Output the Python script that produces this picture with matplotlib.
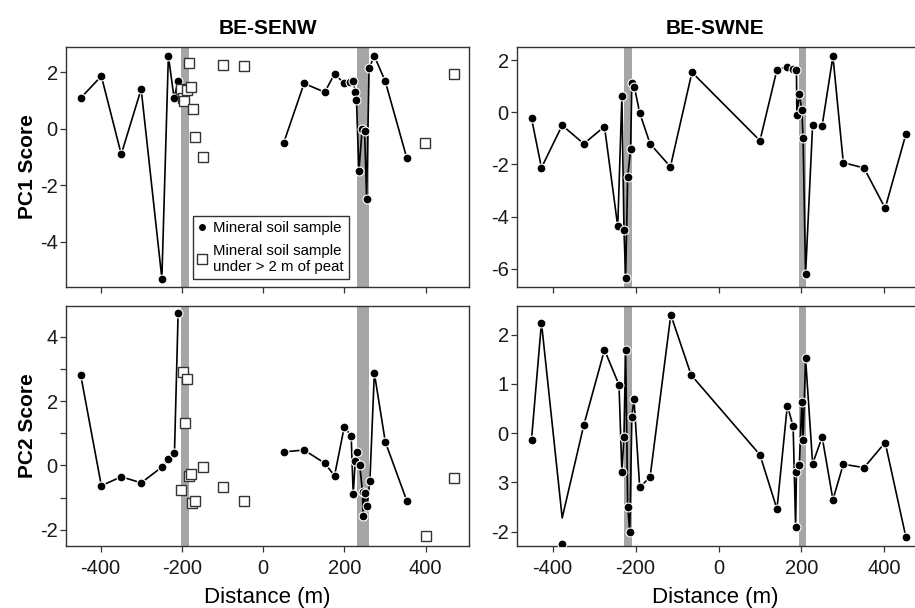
import numpy as np
import matplotlib.pyplot as plt
from matplotlib.lines import Line2D

plt.rcParams['font.family'] = ['Liberation Sans', 'DejaVu Sans']
plt.rcParams['axes.unicode_minus'] = False

# ---- BE-SENW transect ----
# PC1, mineral soil samples (two connected groups)
senw1_xa = [-449, -398, -349, -300, -249, -233, -219, -209]
senw1_ya = [1.09, 1.87, -0.90, 1.41, -5.30, 2.59, 1.09, 1.70]
senw1_xb = [51, 101, 152, 176, 200, 215, 222, 227, 230, 236, 244, 250, 255, 261, 274, 301, 354]
senw1_yb = [-0.49, 1.61, 1.30, 1.95, 1.61, 1.65, 1.68, 1.31, 1.02, -1.49, -0.01, -0.07, -2.50, 2.15, 2.58, 1.68, -1.04]
# PC1, samples under > 2 m of peat
senw1_xp = [-203, -198, -194, -187, -183, -177, -173, -168, -149, -98, -48, 399, 469]
senw1_yp = [1.41, 1.09, 0.98, 1.37, 2.32, 1.50, 0.72, -0.27, -0.98, 2.25, 2.22, -0.50, 1.94]

# PC2
senw2_xa = [-449, -398, -349, -300, -249, -233, -218, -209]
senw2_ya = [2.82, -0.63, -0.35, -0.54, -0.05, 0.19, 0.39, 4.73]
senw2_xb = [51, 101, 152, 176, 200, 217, 222, 227, 232, 238, 245, 246, 250, 256, 263, 274, 301, 354]
senw2_yb = [0.42, 0.48, 0.07, -0.32, 1.20, 0.91, -0.90, 0.14, 0.42, 0.00, -0.83, -1.58, -0.87, -1.25, -0.49, 2.87, 0.73, -1.10]
senw2_xp = [-203, -197, -193, -188, -183, -177, -175, -168, -149, -98, -48, 400, 470]
senw2_yp = [-0.75, 2.90, 1.33, 2.69, -0.32, -0.25, -1.18, -1.11, -0.05, -0.67, -1.11, -2.18, -0.39]

# ---- BE-SWNE transect ----
swne1_x = [-451, -427, -377, -325, -275, -243, -233, -228, -224, -219, -212, -209, -203, -190,
           -165, -116, -64, 100, 141, 165, 180, 188, 189, 195, 201, 204, 210, 227, 250, 276,
           301, 351, 402, 452]
swne1_y = [-0.23, -2.13, -0.50, -1.21, -0.55, -4.38, 0.61, -4.50, -6.34, -2.47, -1.42, 1.12, 0.97, -0.03,
           -1.21, -2.09, 1.53, -1.09, 1.63, 1.73, 1.64, 1.63, -0.09, 0.69, 0.08, -0.98, -6.22, -0.48, -0.51, 2.14,
           -1.93, -2.14, -3.68, -0.84]

swne2_x = [-451, -427, -377, -325, -275, -240, -233, -228, -224, -219, -214, -209, -204, -190,
           -165, -115, -66, 100, 141, 166, 180, 186, 188, 195, 201, 204, 210, 227, 250, 276,
           301, 351, 402, 452]
swne2_y = [-0.13, 2.24, -2.25, 0.16, 1.69, 0.98, -0.79, -0.07, 1.69, -1.49, -2.01, 0.33, 0.70, -1.10,
           -0.89, 2.40, 1.18, -0.44, -1.54, 0.56, 0.14, -1.90, -0.79, -0.64, 0.64, -0.14, 1.52, -0.62, -0.08, -1.35,
           -0.63, -0.70, -0.19, -2.11]
# the connecting line in the original turns at -1.72 near -377 m, not at the dot
swne2_line = list(swne2_y)
swne2_line[2] = -1.72

# peat-bog crossings (gray bands)
senw_bands = [(-202, -183), (231, 260)]
swne_bands = [(-228, -208), (193, 211)]

xticks = [-400, -200, 0, 200, 400]

fig = plt.figure(figsize=(9.15, 6.08), dpi=100)
W, H = 915, 608


def add_ax(x0, y0, x1, y1):
    return fig.add_axes([x0 / W, 1 - y1 / H, (x1 - x0) / W, (y1 - y0) / H])


ax_tl = add_ax(66, 47, 469, 287)
ax_tr = add_ax(517, 47, 920, 287)
ax_bl = add_ax(66, 306, 469, 546)
ax_br = add_ax(517, 306, 920, 546)

dot = dict(color='black', lw=1.2, marker='o', ms=6.4, mfc='black', mec='white', mew=0.8, zorder=3)
sq = dict(ls='none', marker='s', ms=6.8, mfc='white', mec='#333333', mew=1.0, zorder=4)


def style(ax, bands, xlim, ylim):
    for a, b in bands:
        ax.axvspan(a, b, color='#a6a6a6', lw=0, zorder=1)
    ax.set_xlim(xlim)
    ax.set_ylim(ylim)
    ax.set_xticks(xticks)
    for s in ax.spines.values():
        s.set_color('#333333')
        s.set_linewidth(1.0)
    ax.tick_params(direction='out', length=4, width=0.9, color='#333333',
                   labelsize=14.5, labelcolor='#1a1a1a')
    ax.tick_params(axis='x', pad=5)
    ax.tick_params(axis='y', pad=2)


# top-left: BE-SENW PC1
ax = ax_tl
ax.plot(senw1_xa, senw1_ya, **dot)
ax.plot(senw1_xb, senw1_yb, **dot)
ax.plot(senw1_xp, senw1_yp, **sq)
style(ax, senw_bands, (-485, 507), (-5.6, 2.9))
ax.set_yticks([-4, -2, 0, 2])
ax.tick_params(labelbottom=False)
ax.set_title('BE-SENW', fontsize=15, fontweight='bold', pad=9)
ax.set_ylabel('PC1 Score', fontsize=15, fontweight='bold', labelpad=2)
handles = [Line2D([], [], ls='none', marker='o', ms=6, mfc='black', mec='white'),
           Line2D([], [], ls='none', marker='s', ms=6.8, mfc='white', mec='#333333')]
leg = ax.legend(handles, ['Mineral soil sample', 'Mineral soil sample\nunder > 2 m of peat'],
                loc='lower left', bbox_to_anchor=(0.314, 0.033), fontsize=10.8,
                fancybox=False, framealpha=1, edgecolor='#333333',
                handlelength=0.6, handletextpad=0.4, borderpad=0.35, labelspacing=0.55,
                borderaxespad=0)
leg.get_frame().set_linewidth(1.0)

# top-right: BE-SWNE PC1
ax = ax_tr
ax.plot(swne1_x, swne1_y, **dot)
style(ax, swne_bands, (-486, 486), (-6.7, 2.5))
ax.set_yticks([-6, -4, -2, 0, 2])
ax.tick_params(labelbottom=False)
ax.set_title('BE-SWNE', fontsize=15, fontweight='bold', pad=9, x=(715 - 517) / 403)

# bottom-left: BE-SENW PC2
ax = ax_bl
ax.plot(senw2_xa, senw2_ya, **dot)
ax.plot(senw2_xb, senw2_yb, **dot)
ax.plot(senw2_xp, senw2_yp, **sq)
style(ax, senw_bands, (-485, 507), (-2.5, 4.95))
ax.set_yticks([-2, -1, 0, 1, 2, 3, 4])
ax.set_yticklabels(['-2', '', '0', '', '2', '', '4'])
ax.set_ylabel('PC2 Score', fontsize=15, fontweight='bold', labelpad=2)
ax.set_xlabel('Distance (m)', fontsize=16, labelpad=7)

# bottom-right: BE-SWNE PC2
ax = ax_br
ax.plot(swne2_x, swne2_line, color='black', lw=1.2, zorder=2)
ax.plot(swne2_x, swne2_y, ls='none', marker='o', ms=6.4, mfc='black', mec='white', mew=0.8, zorder=3)
style(ax, swne_bands, (-486, 486), (-2.29, 2.58))
ax.set_yticks([-2, -1, 0, 1, 2])
ax.set_yticklabels(['-2', '3', '0', '1', '2'])
ax.set_xlabel('Distance (m)', fontsize=16, labelpad=7, x=(715 - 517) / 403)

fig.savefig('out.png', dpi=100)
